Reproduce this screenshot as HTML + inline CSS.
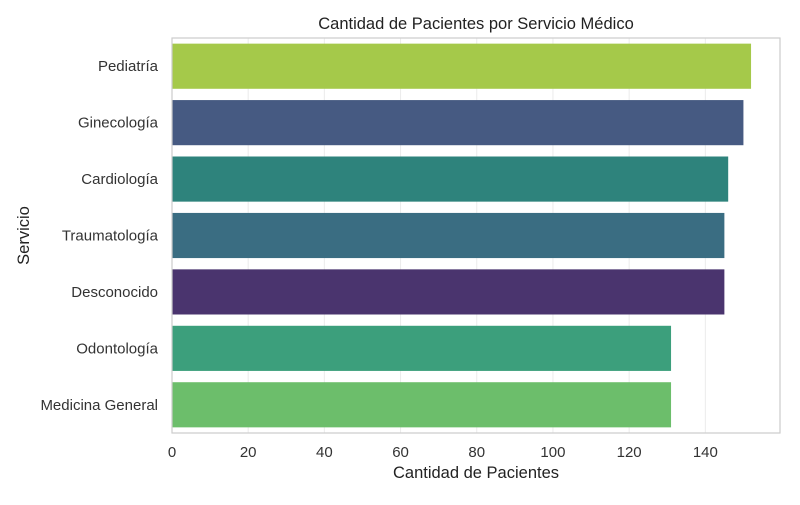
<!DOCTYPE html>
<html><head><meta charset="utf-8"><style>
body{margin:0;background:#fff;font-family:"Liberation Sans","DejaVu Sans",sans-serif}
</style></head><body>
<svg id="c" width="800" height="500" xmlns="http://www.w3.org/2000/svg"></svg>
<script>
const categories=["Pediatría","Ginecología","Cardiología","Traumatología","Desconocido","Odontología","Medicina General"];
const values=[152,150,146,145,145,131,131];
const colors=["#a5c94a","#465a82","#2e837c","#3a6d82","#4a346e","#3c9f7c","#6cbe6b"];
const ticks=[0,20,40,60,80,100,120,140];
const L=172,R=780,T=38,B=433,XMAX=159.6;
const svg=document.getElementById('c');
const NS="http://www.w3.org/2000/svg";
const x=v=>L+v/XMAX*(R-L);
const band=(B-T)/categories.length;
const y=i=>T+band*(i+0.5);
function mk(t,a,txt){const e=document.createElementNS(NS,t);for(const k in a)e.setAttribute(k,a[k]);if(txt!=null)e.textContent=txt;svg.appendChild(e);return e;}
ticks.forEach(t=>{
 const g=mk('line',{x1:x(t),x2:x(t),y1:T,y2:B,stroke:'#ebebeb','stroke-width':1});
 
 
 const l=mk('text',{x:x(t),y:B+24,'text-anchor':'middle','font-size':15,fill:'#333'},t);
 
 
});
categories.forEach((c,i)=>{
 const h=band*0.8;
 const r=mk('rect',{x:x(0),y:y(i)-h/2,width:x(values[i])-x(0),height:h,fill:colors[i]});
 
 
 const l=mk('text',{x:L-14,y:y(i)+5,'text-anchor':'end','font-size':15,fill:'#333'},c);
 
 
});
const f=mk('rect',{x:L,y:T,width:R-L,height:B-T,fill:'none',stroke:'#cccccc','stroke-width':1.2});


const ti=mk('text',{x:(L+R)/2,y:29,'text-anchor':'middle','font-size':16.5,fill:'#222'},'Cantidad de Pacientes por Servicio Médico');


const xt=mk('text',{x:(L+R)/2,y:478,'text-anchor':'middle','font-size':16.5,fill:'#222'},'Cantidad de Pacientes');


const yt=mk('text',{x:29,y:(T+B)/2,'text-anchor':'middle','font-size':16.5,fill:'#222',transform:`rotate(-90 29 ${(T+B)/2})`},'Servicio');


</script>
</body></html>
